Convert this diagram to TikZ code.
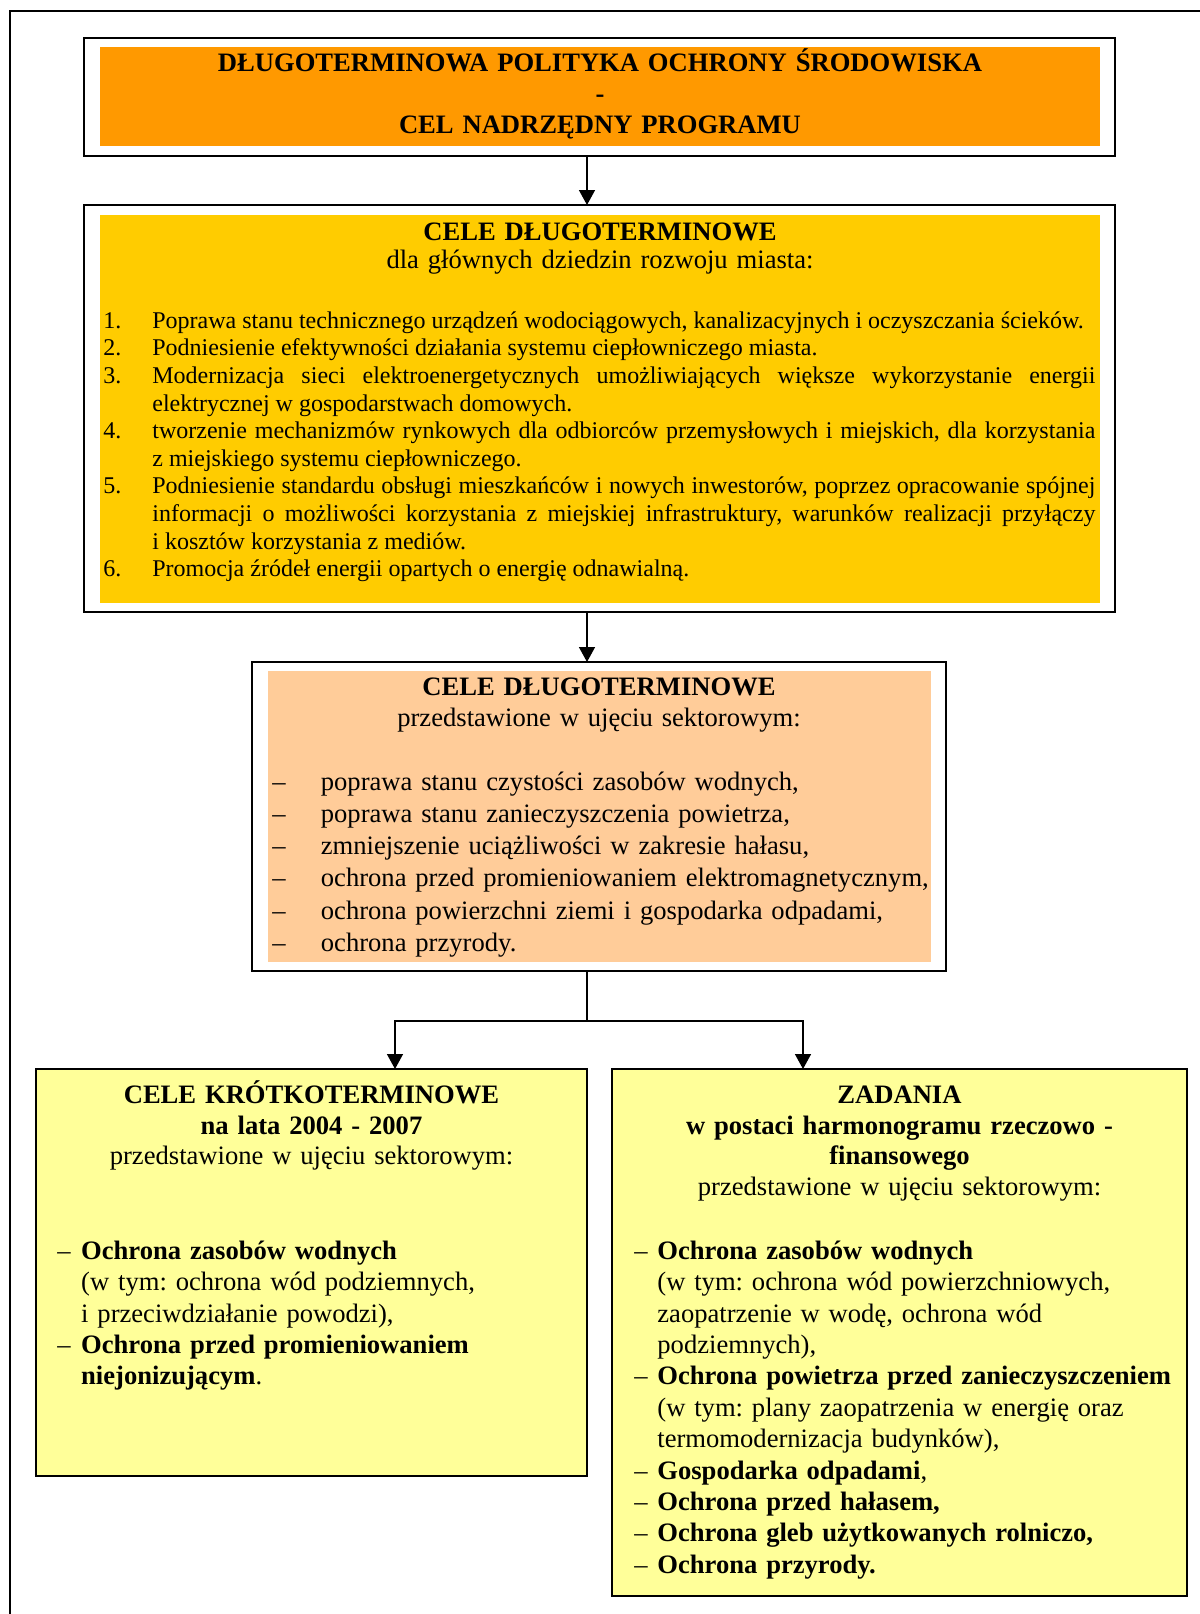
\documentclass[tikz,border=0pt]{standalone}
\usepackage{fontspec}
\setmainfont{Liberation Serif}
\usepackage{tikz}
\usetikzlibrary{arrows.meta}
\usetikzlibrary{positioning}
\definecolor{pomarancz}{RGB}{255, 153, 0}
\definecolor{zloty}{RGB}{255, 204, 0}
\definecolor{brzoskwinia}{RGB}{255, 204, 153}
\definecolor{jasnozolty}{RGB}{255, 255, 153}
\newcommand{\punkt}[2]{\noindent\hangindent=24.5pt\hangafter=1\hbox to 24.5pt{#1\hfil}#2\par}
\newcommand{\kreska}[1]{\leavevmode\hbox to #1{–\hfil}}
\hyphenpenalty=10000
\exhyphenpenalty=10000
\tolerance=9999
\frenchspacing

\begin{document}
\begin{tikzpicture}[x=0.5pt, y=-0.5pt,
    ramka/.style={draw=black, line width=1pt, inner sep=0pt, outer sep=0pt},
    strzalka/.style={line width=0.75pt, -{Triangle[width=8pt,length=7.5pt]}},
    naglowek/.style={inner sep=0pt, anchor=base, align=center},
    lista/.style={inner sep=0pt, anchor=base west},
    duzy/.style={font=\fontsize{13.3}{#1}\selectfont}]
        \useasboundingbox (0,0) rectangle (1200,1614);
        \draw[line width=1pt] (1200,11) -- (10,11) -- (10,1614);
        % ramki
        \node[ramka, minimum width=515.5pt, minimum height=59pt]    (nadrzedny) at (599.5, 97.0) {};
        \node[ramka, minimum width=515.5pt, minimum height=203.5pt] (dlugo)     at (599.5,408.5) {};
        \node[ramka, minimum width=347pt,   minimum height=154.5pt] (sektor)    at (599.0,816.5) {};
        \node[ramka, fill=jasnozolty, minimum width=275.5pt, minimum height=203.5pt] (krotko)  at (311.5,1272.5) {};
        \node[ramka, fill=jasnozolty, minimum width=287.5pt, minimum height=263.5pt] (zadania) at (899.5,1332.5) {};
        \fill[pomarancz]   (100, 47) rectangle (1100,146);
        \fill[zloty]       (100,215) rectangle (1100,603);
        \fill[brzoskwinia] (268,671) rectangle ( 931,962);
        % teksty
        \node[naglowek, text width=500pt, font=\bfseries\fontsize{13.3}{15.4pt}\selectfont] (tytulNadrzedny) at (600,71.7)
            {DŁUGOTERMINOWA POLITYKA OCHRONY ŚRODOWISKA\\-\\CEL NADRZĘDNY PROGRAMU};
        \node[naglowek, duzy=14.15pt, text width=500pt] (tytulDlugo) at (600,240)
            {\textbf{CELE DŁUGOTERMINOWE}\\dla głównych dziedzin rozwoju miasta:};
        \node[lista, text width=496pt, align=justify, font=\fontsize{12}{13.8}\selectfont] (listaDlugo) at (103,328.3)
            {\punkt{1.}{Poprawa stanu technicznego urządzeń wodociągowych, kanalizacyjnych i oczyszczania ścieków.}%
            \punkt{2.}{Podniesienie efektywności działania systemu ciepłowniczego miasta.}%
            \punkt{3.}{Modernizacja sieci elektroenergetycznych umożliwiających większe wykorzystanie energii\linebreak elektrycznej w gospodarstwach domowych.}%
            \punkt{4.}{tworzenie mechanizmów rynkowych dla odbiorców przemysłowych i miejskich, dla korzystania\linebreak z miejskiego systemu ciepłowniczego.}%
            \punkt{5.}{Podniesienie standardu obsługi mieszkańców i nowych inwestorów, poprzez opracowanie spójnej\linebreak informacji o możliwości korzystania z miejskiej infrastruktury, warunków realizacji przyłączy\linebreak i kosztów korzystania z mediów.}%
            \punkt{6.}{Promocja źródeł energii opartych o energię odnawialną.}};
        \node[naglowek, duzy=15.15pt, text width=330pt] (tytulSektor) at (599,695.7)
            {\textbf{CELE DŁUGOTERMINOWE}\\przedstawione w ujęciu sektorowym:};
        \node[lista, duzy=16.15pt, text width=329pt, align=left] (listaSektor) at (272,790)
            {\kreska{24.25pt}poprawa stanu czystości zasobów wodnych,\\
            \kreska{24.25pt}poprawa stanu zanieczyszczenia powietrza,\\
            \kreska{24.25pt}zmniejszenie uciążliwości w zakresie hałasu,\\
            \kreska{24.25pt}ochrona przed promieniowaniem elektromagnetycznym,\\
            \kreska{24.25pt}ochrona powierzchni ziemi i gospodarka odpadami,\\
            \kreska{24.25pt}ochrona przyrody.};
        \node[naglowek, duzy=15.4pt, text width=270pt] (tytulKrotko) at (311.5,1103.3)
            {\textbf{CELE KRÓTKOTERMINOWE}\\\textbf{na lata 2004 - 2007}\\przedstawione w ujęciu sektorowym:};
        \node[lista, duzy=15.7pt, text width=262pt, align=left] (listaKrotko) at (57,1259.3)
            {\kreska{11.9pt}\textbf{Ochrona zasobów wodnych}\\
            \hspace*{11.9pt}(w tym: ochrona wód podziemnych,\\
            \hspace*{11.9pt}i przeciwdziałanie powodzi),\\
            \kreska{11.9pt}\textbf{Ochrona przed promieniowaniem}\\
            \hspace*{11.9pt}\textbf{niejonizującym}.};
        \node[naglowek, duzy=15.4pt, text width=280pt] (tytulZadania) at (899.5,1103.3)
            {\textbf{ZADANIA}\\\textbf{w postaci harmonogramu rzeczowo -}\\\textbf{finansowego}\\przedstawione w ujęciu sektorowym:};
        \node[lista, duzy=15.7pt, text width=272pt, align=left] (listaZadania) at (634,1259.3)
            {\kreska{11.5pt}\textbf{Ochrona zasobów wodnych}\\
            \hspace*{11.5pt}(w tym: ochrona wód powierzchniowych,\\
            \hspace*{11.5pt}zaopatrzenie w wodę, ochrona wód\\
            \hspace*{11.5pt}podziemnych),\\
            \kreska{11.5pt}\textbf{Ochrona powietrza przed zanieczyszczeniem}\\
            \hspace*{11.5pt}(w tym: plany zaopatrzenia w energię oraz\\
            \hspace*{11.5pt}termomodernizacja budynków),\\
            \kreska{11.5pt}\textbf{Gospodarka odpadami},\\
            \kreska{11.5pt}\textbf{Ochrona przed hałasem,}\\
            \kreska{11.5pt}\textbf{Ochrona gleb użytkowanych rolniczo,}\\
            \kreska{11.5pt}\textbf{Ochrona przyrody.}};
        % strzalki
        \draw[strzalka] ([xshift=-6.25pt]nadrzedny.south) -- ([xshift=-6.25pt]nadrzedny.south |- dlugo.north);
        \draw[strzalka] ([xshift=-6.25pt]dlugo.south) -- ([xshift=-6.25pt]dlugo.south |- sektor.north);
        \coordinate (rozwidlenie) at (587,1021);
        \draw[line width=0.75pt] ([xshift=-6pt]sektor.south) -- (rozwidlenie);
        \draw[strzalka] (rozwidlenie) -| ([xshift=41.75pt]krotko.north);
        \draw[strzalka] (rozwidlenie) -| ([xshift=-48.25pt]zadania.north);
\end{tikzpicture}
\end{document}
